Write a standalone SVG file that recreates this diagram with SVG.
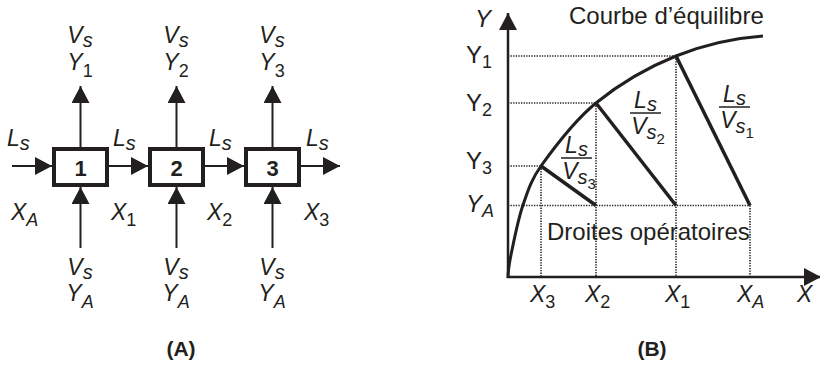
<svg xmlns="http://www.w3.org/2000/svg" width="820" height="365" viewBox="0 0 820 365">
<style>
text{font-family:"Liberation Sans",Arial,sans-serif;fill:#231f20}
.it{font-style:italic;font-size:23px}
.lb{font-size:24px}
.num{font-weight:bold;font-size:22px;text-anchor:middle}
.cap{font-weight:bold;font-size:21px;text-anchor:middle}
.box{fill:#fff;stroke:#231f20;stroke-width:4}
.arr{stroke:#231f20;stroke-width:2;fill:none;marker-end:url(#ah)}
.axis{stroke:#231f20;stroke-width:2.5;fill:none;marker-end:url(#ah)}
.dot{stroke:#231f20;stroke-width:1.6;stroke-dasharray:1.3 1.3;fill:none}
.op{stroke:#231f20;stroke-width:3.5;fill:none}
.bar{stroke:#231f20;stroke-width:1.5}
.m{text-anchor:middle}
</style>
<defs>
<marker id="ah" markerUnits="userSpaceOnUse" markerWidth="17" markerHeight="18" refX="17" refY="9" orient="auto">
<path d="M0,0 L17,9 L0,18 Z" fill="#231f20"/>
</marker>
</defs>

<g id="connectors">
<path class="arr" d="M12,166 H52"/>
<path class="arr" d="M109,166 H148"/>
<path class="arr" d="M205,166 H244"/>
<path class="arr" d="M301,166 H340"/>
<path class="arr" d="M80.5,147 V86"/>
<path class="arr" d="M176.5,147 V86"/>
<path class="arr" d="M272.5,147 V86"/>
<path class="arr" d="M80.5,248 V187"/>
<path class="arr" d="M176.5,248 V187"/>
<path class="arr" d="M272.5,248 V187"/>
</g>

<g id="stage1">
<rect class="box" x="54" y="149" width="53" height="36"/>
<text class="num" x="80.5" y="176">1</text>
</g>
<g id="stage2">
<rect class="box" x="150" y="149" width="53" height="36"/>
<text class="num" x="176.5" y="176">2</text>
</g>
<g id="stage3">
<rect class="box" x="246" y="149" width="53" height="36"/>
<text class="num" x="272.5" y="176">3</text>
</g>

<g id="labelsA">
<text class="it m" x="80" y="43">V<tspan font-size="20" dy="4">s</tspan></text>
<text class="it m" x="80" y="70">Y<tspan font-size="18" font-style="normal" dy="7">1</tspan></text>
<text class="it m" x="176" y="43">V<tspan font-size="20" dy="4">s</tspan></text>
<text class="it m" x="176" y="70">Y<tspan font-size="18" font-style="normal" dy="7">2</tspan></text>
<text class="it m" x="272" y="43">V<tspan font-size="20" dy="4">s</tspan></text>
<text class="it m" x="272" y="70">Y<tspan font-size="18" font-style="normal" dy="7">3</tspan></text>

<text class="it m" x="80" y="275">V<tspan font-size="20" dy="4">s</tspan></text>
<text class="it m" x="80" y="301">Y<tspan font-size="18" dy="7">A</tspan></text>
<text class="it m" x="176" y="275">V<tspan font-size="20" dy="4">s</tspan></text>
<text class="it m" x="176" y="301">Y<tspan font-size="18" dy="7">A</tspan></text>
<text class="it m" x="272" y="275">V<tspan font-size="20" dy="4">s</tspan></text>
<text class="it m" x="272" y="301">Y<tspan font-size="18" dy="7">A</tspan></text>

<text class="it" x="7" y="146">L<tspan font-size="20" dy="4">s</tspan></text>
<text class="it" x="113" y="146">L<tspan font-size="20" dy="4">s</tspan></text>
<text class="it" x="209" y="146">L<tspan font-size="20" dy="4">s</tspan></text>
<text class="it" x="306" y="146">L<tspan font-size="20" dy="4">s</tspan></text>

<text class="it" x="11" y="220">X<tspan font-size="18" dy="6">A</tspan></text>
<text class="it" x="111" y="220">X<tspan font-size="18" font-style="normal" dy="6">1</tspan></text>
<text class="it" x="207" y="220">X<tspan font-size="18" font-style="normal" dy="6">2</tspan></text>
<text class="it" x="304" y="220">X<tspan font-size="18" font-style="normal" dy="6">3</tspan></text>

<text class="cap" x="181" y="356">(A)</text>
</g>

<g id="chartB">
<g id="guides">
<path class="dot" d="M508,56 H676 M508,103 H596 M508,166 H541 M508,205.5 H750"/>
<path class="dot" d="M541,166 V277 M596,103 V277 M676,56 V277 M750,205.5 V277"/>
</g>
<g id="axes">
<path class="axis" d="M508,278 V13"/>
<path class="axis" d="M507,277 H821"/>
</g>
<path id="curve" fill="none" stroke="#231f20" stroke-width="3" d="M508,278 C508,268 509.5,262 512,250 C514.5,238 518.2,219 523,205 C527.8,191 531,180 541,166 C553.2,149 573.5,121.3 596,103 C618.5,84.7 648.2,67.2 676,56 C703.8,44.8 735,38 763,36"/>
<g id="operating">
<path class="op" d="M676,56 L750,205.5"/>
<path class="op" d="M596,103 L676,205.5"/>
<path class="op" d="M541,166 L596,205.5"/>
</g>
<g id="slopes">
<text class="it m" x="734.5" y="102">L<tspan font-size="20" dy="3">s</tspan></text>
<line class="bar" x1="719" y1="107" x2="750" y2="107"/>
<text class="it m" x="737" y="128">V<tspan font-size="20" dy="5">s</tspan><tspan font-size="15" font-style="normal" dy="5">1</tspan></text>

<text class="it m" x="645.5" y="108">L<tspan font-size="20" dy="3">s</tspan></text>
<line class="bar" x1="630" y1="113" x2="661" y2="113"/>
<text class="it m" x="648" y="134">V<tspan font-size="20" dy="5">s</tspan><tspan font-size="15" font-style="normal" dy="5">2</tspan></text>

<text class="it m" x="576.5" y="153">L<tspan font-size="20" dy="3">s</tspan></text>
<line class="bar" x1="561" y1="158" x2="592" y2="158"/>
<text class="it m" x="579" y="179">V<tspan font-size="20" dy="5">s</tspan><tspan font-size="15" font-style="normal" dy="5">3</tspan></text>
</g>
<g id="labelsB">
<text class="lb" x="569" y="24">Courbe d’équilibre</text>
<text class="lb" x="547" y="240">Droites opératoires</text>
<text class="lb" font-style="italic" x="475" y="27">Y</text>
<text class="lb" x="466" y="63">Y<tspan font-size="18" dy="5">1</tspan></text>
<text class="lb" x="466" y="111">Y<tspan font-size="18" dy="5">2</tspan></text>
<text class="lb" x="466" y="169">Y<tspan font-size="18" dy="5">3</tspan></text>
<text class="lb" font-style="italic" x="466" y="212">Y<tspan font-size="18" dy="5">A</tspan></text>
<text class="it" x="530" y="302">X<tspan font-size="18" font-style="normal" dy="6">3</tspan></text>
<text class="it" x="585" y="302">X<tspan font-size="18" font-style="normal" dy="6">2</tspan></text>
<text class="it" x="665" y="302">X<tspan font-size="18" font-style="normal" dy="6">1</tspan></text>
<text class="it" x="737" y="302">X<tspan font-size="18" dy="6">A</tspan></text>
<text class="it" x="797" y="302">X</text>
<text class="cap" x="652" y="356">(B)</text>
</g>
</g>
</svg>
